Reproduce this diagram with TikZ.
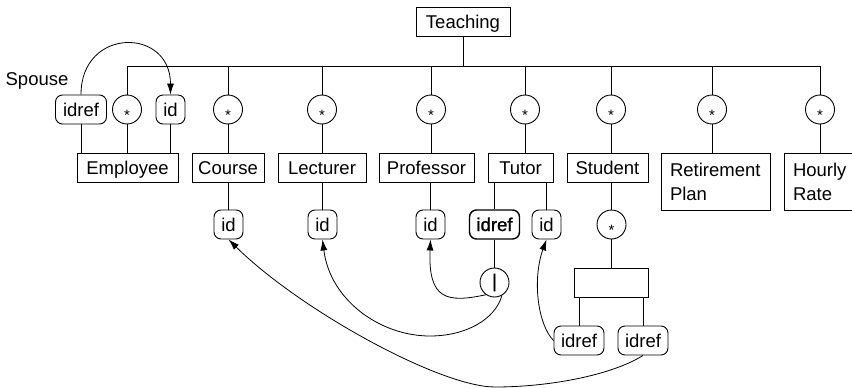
\documentclass[tikz,border=0pt]{standalone}
\usepackage{fontspec}
\setmainfont{Liberation Sans}
\newfontfamily\heavyfont[FakeBold=1.2]{Liberation Sans}
\usetikzlibrary{arrows.meta}
\begin{document}
\begin{tikzpicture}[x=1pt,y=-1pt,
  every node/.style={font=\fontsize{18.5}{24}\selectfont, inner sep=0pt},
  elem/.style={draw, line width=0.9pt, minimum height=29pt, text height=17pt, text depth=4pt},
  multi/.style={draw, line width=0.9pt, minimum height=57pt, align=left},
  attr/.style={draw, line width=0.9pt, rounded corners=7pt, minimum height=29pt,
               minimum width=29pt, text height=17pt, text depth=4pt},
  ring/.style={draw, circle, line width=0.9pt, minimum size=29pt},
  card/.style={ring, font=\fontsize{15}{15}\selectfont, text height=21pt, text depth=0pt},
  link/.style={line width=0.9pt},
  ref/.style={line width=0.8pt, -{Latex[length=11pt,width=7pt]}}
]
\useasboundingbox (0,0) rectangle (852,388);

% root element and the sequence bar
\node[elem, minimum width=94pt] (teach) at (463,22) {Teaching};
\coordinate (barL) at (127,66);
\coordinate (barR) at (820,66);

% repetition markers under the bar
\node[card] (s1) at (127,109.5) {*};
\node[card] (s2) at (228,109.5) {*};
\node[card] (s3) at (322,109.5) {*};
\node[card] (s4) at (431,109.5) {*};
\node[card] (s5) at (525,109.5) {*};
\node[card] (s6) at (611,109.5) {*};
\node[card] (s7) at (712,109.5) {*};
\node[card] (s8) at (820,109.5) {*};

% child elements
\node[elem, minimum width=101pt] (emp) at (127.5,167.5) {Employee};
\node[elem, minimum width=72pt] (course) at (228,167.5) {Course};
\node[elem, minimum width=88pt] (lect) at (322,167.5) {Lecturer};
\node[elem, minimum width=95pt] (prof) at (426.5,167.5) {Professor};
\node[elem, minimum width=65pt] (tutor) at (520.5,167.5) {Tutor};
\node[elem, minimum width=81pt] (student) at (607.5,167.5) {Student};
\node[multi, minimum width=109pt, text width=91pt] (retire) at (715.5,181.5) {Retirement\\Plan};
\node[multi, minimum width=100pt, text width=82pt] (hourly) at (834,181.5) {Hourly\\Rate};

% employee attributes
\node[attr, minimum width=51pt] (spref) at (81,109.5) {idref};
\node[attr] (empid) at (170.5,109.5) {id};
\node (spouse) at (37,81) {Spouse};

% key attributes and references
\node[attr] (cid) at (228.5,224.5) {id};
\node[attr] (lid) at (322.5,224.5) {id};
\node[attr] (pid) at (430.5,224.5) {id};
\node[attr, minimum width=50pt, line width=1.4pt, font=\fontsize{18.5}{24}\heavyfont] (tref) at (494.5,224.5) {idref};
\node[attr] (tid) at (546.5,224.5) {id};
\node[card] (s9) at (611.5,224.5) {*};
\node[ring, font=\fontsize{18.5}{24}\heavyfont] (choice) at (494.5,282.5) {|};
\node[elem, minimum width=74pt] (grp) at (611,282.5) {};
\node[attr, minimum width=50pt] (ref1) at (579,340.5) {idref};
\node[attr, minimum width=50pt] (ref2) at (643,340.5) {idref};

% tree structure
\draw[link] (teach) -- (teach |- barL);
\draw[link] (barL) -- (barR);
\foreach \s in {s1,s2,s3,s4,s5,s6,s7,s8} {
  \draw[link] (\s |- barL) -- (\s);
}
\draw[link] (s1) -- (s1 |- emp.north);
\draw[link] (s2) -- (s2 |- course.north);
\draw[link] (s3) -- (s3 |- lect.north);
\draw[link] (s4) -- (s4 |- prof.north);
\draw[link] (s5) -- (s5 |- tutor.north);
\draw[link] (s6) -- (s6 |- student.north);
\draw[link] (s7) -- (s7 |- retire.north);
\draw[link] (s8) -- (s8 |- hourly.north);
\draw[link] (spref) -- (spref |- emp.north);
\draw[link] (empid) -- (empid |- emp.north);
\draw[link] (cid |- course.south) -- (cid);
\draw[link] (lid |- lect.south) -- (lid);
\draw[link] (pid |- prof.south) -- (pid);
\draw[link] (tref |- tutor.south) -- (tref);
\draw[link] (tid |- tutor.south) -- (tid);
\draw[link] (s9 |- student.south) -- (s9);
\draw[link] (s9) -- (s9 |- grp.north);
\draw[link] (tref) -- (choice);
\draw[link] (ref1 |- grp.south) -- (ref1);
\draw[link] (ref2 |- grp.south) -- (ref2);

% id references
\draw[ref] (spref.north) .. controls (81,27) and (170.5,27) .. (empid.north);
\draw[ref] (choice.235) .. controls (447,303) and (428,300) .. (pid.south);
\draw[ref] (choice.300) .. controls (495,320) and (465,336) .. (430,336)
           .. controls (380,336) and (330,300) .. (lid.south);
\draw[ref] (ref2.south) .. controls (612,375) and (550,387) .. (495,387)
           .. controls (440,387) and (300,310) .. (cid.south);
\draw[ref] (ref1.west) .. controls (538,325) and (532,280) .. (tid.south);
\end{tikzpicture}
\end{document}
